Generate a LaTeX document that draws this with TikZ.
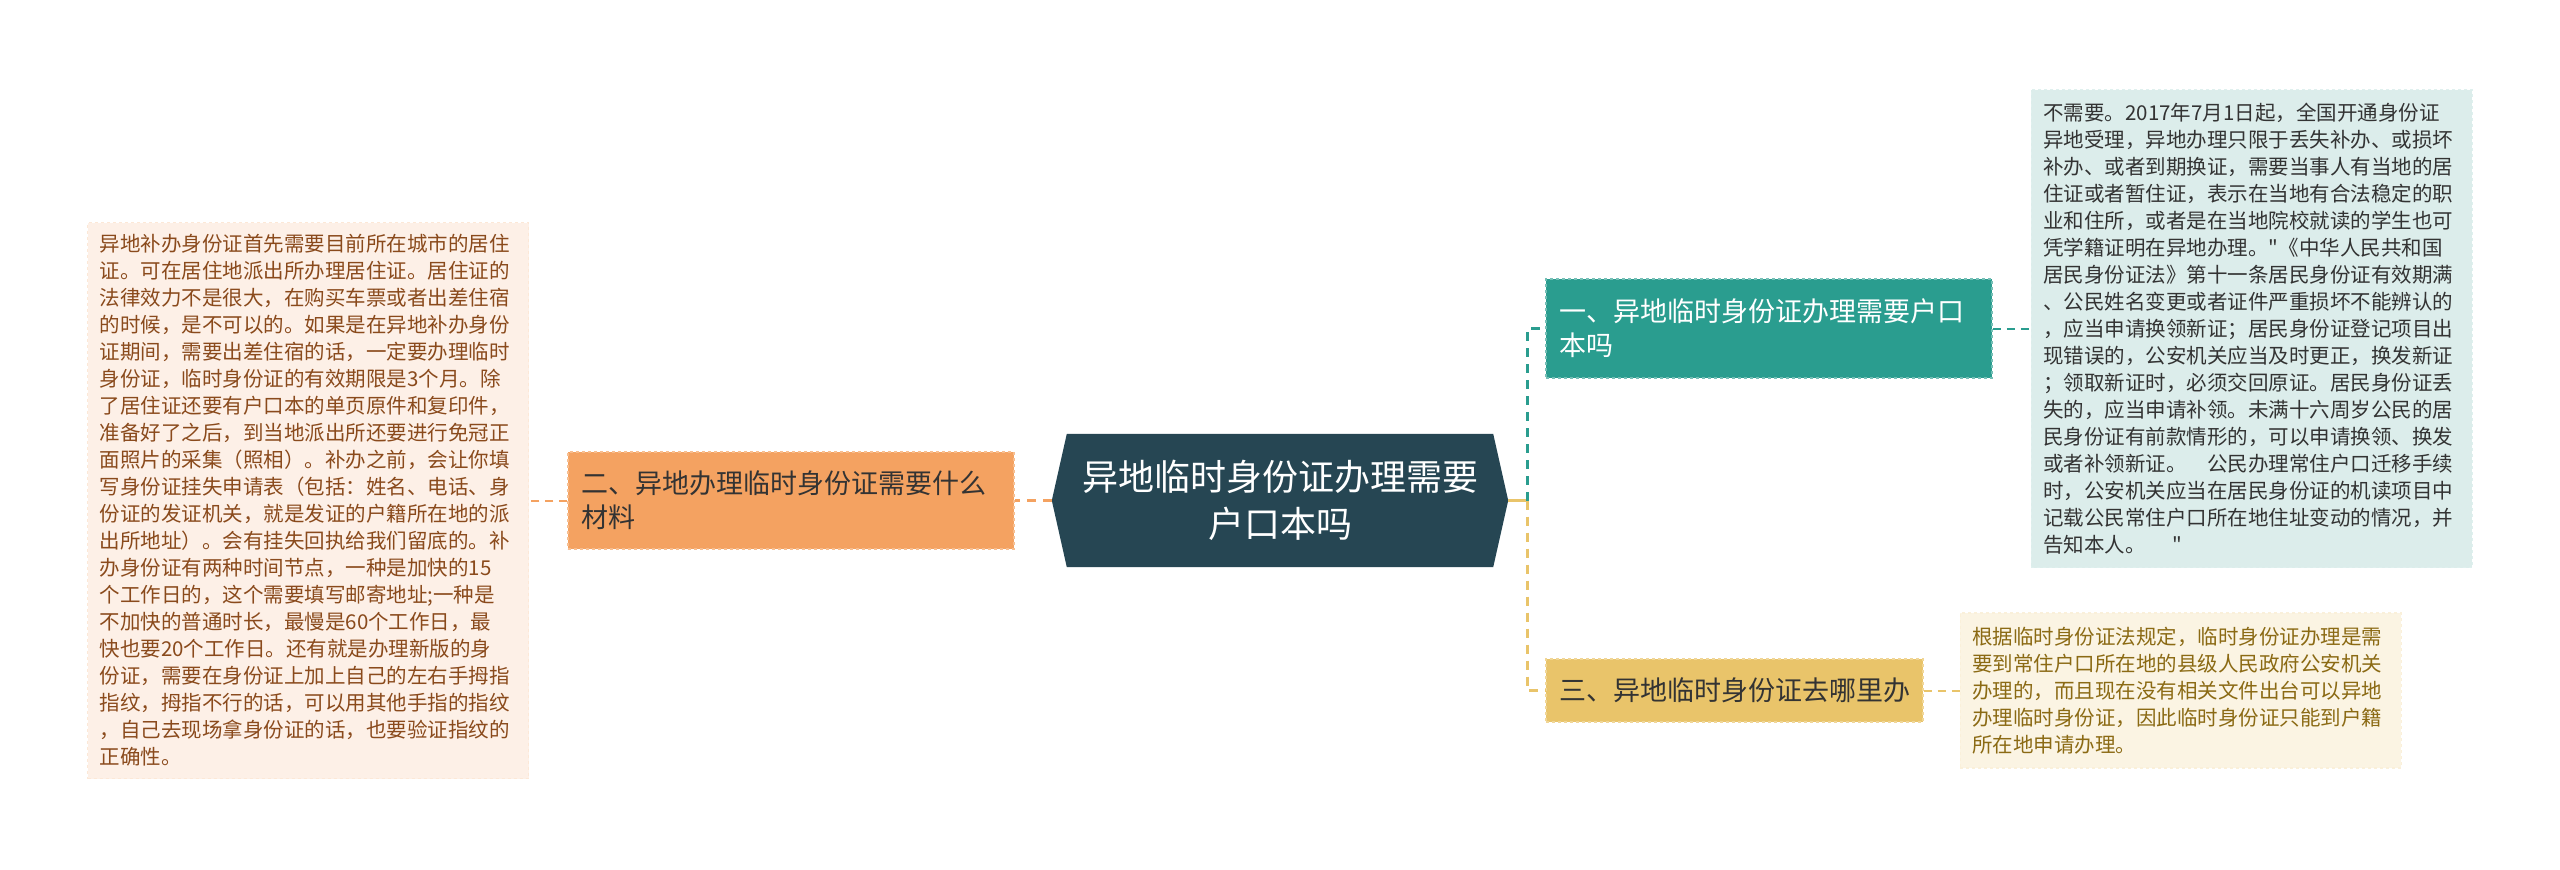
\documentclass[tikz,border=0pt]{standalone}
\usepackage{fontspec}
\newfontfamily\cjk{Noto Sans CJK SC}
\usepackage{tikz}
\usetikzlibrary{positioning, calc, backgrounds}
\definecolor{zhuSe}{HTML}{264653}
\definecolor{lvSe}{HTML}{2A9D8F}
\definecolor{huangSe}{HTML}{E9C46A}
\definecolor{chengSe}{HTML}{F4A261}
\definecolor{chengBg}{HTML}{FDF0E7}
\definecolor{chengTxt}{HTML}{8A4A1C}
\definecolor{lvBg}{HTML}{DCEDEB}
\definecolor{huangBg}{HTML}{FBF4E3}
\definecolor{huangTxt}{HTML}{8B6A14}
\newcommand{\dq}{\char34\relax}

\begin{document}
\begin{tikzpicture}[x=1pt, y=-1pt,
        rama/.style={rectangle, draw, dashed, line width=1.5pt, inner xsep=13pt, inner ysep=0pt, align=left, font=\cjk\fontsize{27}{34}\selectfont},
        texto/.style={rectangle, draw, dashed, line width=1.2pt, inner xsep=12pt, inner ysep=0pt, text width=417pt, align=left, font=\cjk\fontsize{20.5}{27}\selectfont},
        linea/.style={line width=3pt, dash pattern=on 9pt off 7pt},
        fina/.style={line width=2pt, dash pattern=on 8pt off 6pt}]

        \useasboundingbox (0,0) rectangle (2560,870);

        % Tema central
        \node[minimum width=456pt, minimum height=133pt, text width=430pt, align=center, text=white,
              font=\cjk\fontsize{36}{47}\selectfont] (main) at (1280,500.5) {异地临时身份证办理需要\\户口本吗};

        % Ramas
        \node[rama, fill=chengSe, draw=chengSe!70!white, text=black!80, text width=420pt, minimum height=97pt] (cailiao) at (791,500.5)
            {二、异地办理临时身份证需要什么\\材料};
        \node[rama, fill=lvSe, draw=lvSe!65!white, text=white, text width=420pt, minimum height=99pt] (hukou) at (1769,328.5)
            {一、异地临时身份证办理需要户口\\本吗};
        \node[rama, fill=huangSe, draw=huangSe!70!white, text=black!80, text width=351pt, minimum height=63pt] (qunali) at (1734.5,690.5)
            {三、异地临时身份证去哪里办};

        % Textos
        \node[texto, fill=chengBg, draw=chengSe!25, text=chengTxt, minimum height=556pt, left=38pt of cailiao] (cailiaoTxt) {%
            异地补办身份证首先需要目前所在城市的居住\\
            证。可在居住地派出所办理居住证。居住证的\\
            法律效力不是很大，在购买车票或者出差住宿\\
            的时候，是不可以的。如果是在异地补办身份\\
            证期间，需要出差住宿的话，一定要办理临时\\
            身份证，临时身份证的有效期限是3个月。除\\
            了居住证还要有户口本的单页原件和复印件，\\
            准备好了之后，到当地派出所还要进行免冠正\\
            面照片的采集（照相）。补办之前，会让你填\\
            写身份证挂失申请表（包括：姓名、电话、身\\
            份证的发证机关，就是发证的户籍所在地的派\\
            出所地址）。会有挂失回执给我们留底的。补\\
            办身份证有两种时间节点，一种是加快的15\\
            个工作日的，这个需要填写邮寄地址;一种是\\
            不加快的普通时长，最慢是60个工作日，最\\
            快也要20个工作日。还有就是办理新版的身\\
            份证，需要在身份证上加上自己的左右手拇指\\
            指纹，拇指不行的话，可以用其他手指的指纹\\
            ，自己去现场拿身份证的话，也要验证指纹的\\
            正确性。};
        \node[texto, fill=lvBg, draw=lvSe!15, text=black!80, minimum height=478pt, right=38pt of hukou] (hukouTxt) {%
            不需要。2017年7月1日起，全国开通身份证\\
            异地受理，异地办理只限于丢失补办、或损坏\\
            补办、或者到期换证，需要当事人有当地的居\\
            住证或者暂住证，表示在当地有合法稳定的职\\
            业和住所，或者是在当地院校就读的学生也可\\
            凭学籍证明在异地办理。\dq《中华人民共和国\\
            居民身份证法》第十一条居民身份证有效期满\\
            、公民姓名变更或者证件严重损坏不能辨认的\\
            ，应当申请换领新证；居民身份证登记项目出\\
            现错误的，公安机关应当及时更正，换发新证\\
            ；领取新证时，必须交回原证。居民身份证丢\\
            失的，应当申请补领。未满十六周岁公民的居\\
            民身份证有前款情形的，可以申请换领、换发\\
            或者补领新证。\hspace{1em}公民办理常住户口迁移手续\\
            时，公安机关应当在居民身份证的机读项目中\\
            记载公民常住户口所在地住址变动的情况，并\\
            告知本人。\hspace{1.3em}\dq};
        \node[texto, fill=huangBg, draw=huangSe!25, text=huangTxt, minimum height=155pt, right=36pt of qunali] (qunaliTxt) {%
            根据临时身份证法规定，临时身份证办理是需\\
            要到常住户口所在地的县级人民政府公安机关\\
            办理的，而且现在没有相关文件出台可以异地\\
            办理临时身份证，因此临时身份证只能到户籍\\
            所在地申请办理。};

        % Fondo y forma del tema central
        \begin{scope}[on background layer]
            \fill[white] (0,0) rectangle (2560,870);
            \fill[zhuSe] (main.west) -- ($(main.north west)+(15,0)$) -- ($(main.north east)+(-15,0)$)
                -- (main.east) -- ($(main.south east)+(-15,0)$) -- ($(main.south west)+(15,0)$) -- cycle;
        \end{scope}

        % Conectores
        \coordinate (nudo) at (1527,500.5);
        \draw[linea, chengSe] (main.west) -- (cailiao.east);
        \draw[fina, chengSe] (cailiao.west) -- (cailiao.west -| cailiaoTxt.east);
        \draw[line width=3pt, huangSe] (main.east) -- (nudo);
        \draw[linea, lvSe] (nudo) |- (hukou.west);
        \draw[linea, huangSe] (nudo) |- (qunali.west);
        \draw[fina, lvSe] (hukou.east) -- (hukou.east -| hukouTxt.west);
        \draw[fina, huangSe] (qunali.east) -- (qunali.east -| qunaliTxt.west);
    \end{tikzpicture}
\end{document}
